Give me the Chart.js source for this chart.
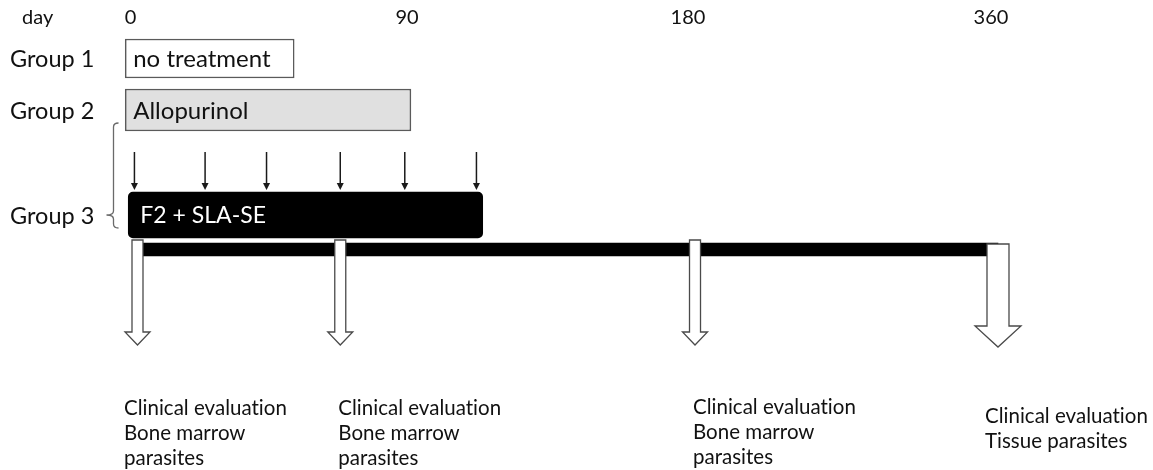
<!DOCTYPE html>
<html><head><meta charset="utf-8">
<script src="https://cdn.jsdelivr.net/npm/chart.js@4"></script>
<style>html,body{margin:0;padding:0;background:#fff;}#wrap{width:1153px;height:470px;position:relative;}</style>
</head><body><div id="wrap"><canvas id="c"></canvas></div>
<script>
// ---------------- data ----------------
const axisTitle = 'day';
const dayTicks = [0, 90, 180, 360];
const dayTickLabels = ['0', '90', '180', '360'];
const groupNames = ['Group 1', 'Group 2', 'Group 3'];
const treatmentNames = ['no treatment', 'Allopurinol', 'F2 + SLA-SE'];
const treatmentStart = [-4, -4, -3];
const treatmentEnd = [51, 89, 112];
const vaccinationDays = [-1, 22, 42, 66, 87, 110];
const timelineStart = 0;
const timelineEnd = 360;
const evaluationDays = [0, 66, 180, 360];
const evaluationLabels = [
  ['Clinical evaluation', 'Bone marrow', 'parasites'],
  ['Clinical evaluation', 'Bone marrow', 'parasites'],
  ['Clinical evaluation', 'Bone marrow', 'parasites'],
  ['Clinical evaluation', 'Tissue parasites']
];

// ---------------- layout / style ----------------
// the hand-drawn time axis is not linear: relative spacing of the tick marks
const axisAnchors = [0, 1, 2.0163, 3.1121];
function dayPos(d) {
  let i = 0;
  while (i < dayTicks.length - 2 && d > dayTicks[i + 1]) i++;
  const t = (d - dayTicks[i]) / (dayTicks[i + 1] - dayTicks[i]);
  return axisAnchors[i] + t * (axisAnchors[i + 1] - axisAnchors[i]);
}
const ROW = {
  tick: 1.8,
  group: [5.85, 11.0, 21.5],
  groupLabel: [5.9, 11.1, 21.6],
  vacTop: 15.2, vacBottom: 19.0,
  timeline: 24.95,
  bracketTop: 12.3, bracketBottom: 22.8, bracketTick: 21.5,
  evalTop: [24.0, 24.0, 24.0, 24.4], evalHead: [33.2, 33.2, 33.2, 32.6], evalTip: [34.5, 34.5, 34.5, 34.7],
  evalText: [40.8, 40.8, 40.7, 41.6], evalLine: 2.5
};
const STYLE = {
  font: 'Lato, "Open Sans", sans-serif',
  text: '#111111',
  border: '#5a5a5a',
  boxFill: ['#ffffff', '#e0e0e0', '#000000'],
  boxText: ['#111111', '#111111', '#ffffff'],
  boxFont: [24, 24, 23],
  boxThickness: [39, 42, 46],
  boxTextInset: [8, 8, 12],
  tickShift: -7,
  evalShaft: [11, 11, 11, 22], evalHeadW: [25, 25, 25, 46],
  evalTextShift: [-13.5, -2, -2, -13]
};

const boxDatasets = groupNames.map((g, i) => ({
  label: treatmentNames[i],
  data: [{ x: [dayPos(treatmentStart[i]), dayPos(treatmentEnd[i])], y: ROW.group[i] }],
  backgroundColor: STYLE.boxFill[i],
  borderColor: i === 2 ? '#000' : STYLE.border,
  borderWidth: i === 2 ? 0 : 1.5,
  borderSkipped: false,
  borderRadius: i === 2 ? 5 : 0,
  barThickness: STYLE.boxThickness[i]
}));
const timelineDataset = {
  label: 'timeline',
  data: [{ x: [dayPos(timelineStart), dayPos(timelineEnd)], y: ROW.timeline }],
  backgroundColor: '#000', borderColor: '#333', borderWidth: 0, borderSkipped: false,
  barThickness: 13
};

const overlay = {
  id: 'overlay',
  afterDatasetsDraw(chart) {
    const { ctx, scales: { x, y }, chartArea } = chart;
    const X = d => x.getPixelForValue(dayPos(d));
    const Y = v => y.getPixelForValue(v);
    ctx.save();
    try { ctx.textRendering = 'optimizeLegibility'; ctx.letterSpacing = '0.01px'; } catch (e) {}
    ctx.fillStyle = STYLE.text;
    ctx.textBaseline = 'middle';
    // axis title + tick labels
    ctx.font = '20px ' + STYLE.font;
    ctx.textAlign = 'left';
    ctx.fillText(axisTitle, chartArea.left + 22, Y(ROW.tick));
    ctx.textAlign = 'center';
    dayTicks.forEach((d, i) => ctx.fillText(dayTickLabels[i], X(d) + STYLE.tickShift, Y(ROW.tick)));
    // group labels
    ctx.font = '23.5px ' + STYLE.font;
    ctx.textAlign = 'left';
    groupNames.forEach((g, i) => ctx.fillText(g, chartArea.left + 10, Y(ROW.groupLabel[i])));
    // text inside treatment boxes
    treatmentNames.forEach((t, i) => {
      ctx.font = STYLE.boxFont[i] + 'px ' + STYLE.font;
      ctx.fillStyle = STYLE.boxText[i];
      ctx.fillText(t, X(treatmentStart[i]) + STYLE.boxTextInset[i], Y(ROW.groupLabel[i]));
    });
    // bracket joining group 2 and group 3
    const bx = X(0) - 24;
    const bt = Y(ROW.bracketTop), bb = Y(ROW.bracketBottom), bm = Y(ROW.bracketTick);
    ctx.strokeStyle = '#6a6a6a'; ctx.lineWidth = 1.3;
    ctx.beginPath();
    ctx.moveTo(bx + 5, bt);
    ctx.quadraticCurveTo(bx, bt, bx, bt + 4);
    ctx.lineTo(bx, bm - 4);
    ctx.quadraticCurveTo(bx, bm, bx - 7, bm);
    ctx.quadraticCurveTo(bx, bm, bx, bm + 4);
    ctx.lineTo(bx, bb - 4);
    ctx.quadraticCurveTo(bx, bb, bx + 5, bb);
    ctx.stroke();
    // vaccination arrows
    ctx.strokeStyle = '#1a1a1a'; ctx.fillStyle = '#1a1a1a'; ctx.lineWidth = 1.5;
    vaccinationDays.forEach(d => {
      const px = X(d), t = Y(ROW.vacTop), b = Y(ROW.vacBottom);
      ctx.beginPath(); ctx.moveTo(px, t); ctx.lineTo(px, b - 6); ctx.stroke();
      ctx.beginPath(); ctx.moveTo(px - 3.5, b - 7); ctx.lineTo(px + 3.5, b - 7); ctx.lineTo(px, b); ctx.closePath(); ctx.fill();
    });
    // evaluation (hollow) arrows
    ctx.strokeStyle = '#4a4a4a'; ctx.fillStyle = '#ffffff'; ctx.lineWidth = 1.3;
    evaluationDays.forEach((d, i) => {
      const cx = X(d), sw = STYLE.evalShaft[i] / 2, hw = STYLE.evalHeadW[i] / 2;
      const t = Y(ROW.evalTop[i]), h = Y(ROW.evalHead[i]), tip = Y(ROW.evalTip[i]);
      ctx.beginPath();
      ctx.moveTo(cx - sw, t); ctx.lineTo(cx + sw, t); ctx.lineTo(cx + sw, h);
      ctx.lineTo(cx + hw, h); ctx.lineTo(cx, tip); ctx.lineTo(cx - hw, h);
      ctx.lineTo(cx - sw, h); ctx.closePath();
      ctx.fill(); ctx.stroke();
    });
    // evaluation labels
    ctx.fillStyle = STYLE.text; ctx.font = '20.5px ' + STYLE.font; ctx.textAlign = 'left';
    evaluationLabels.forEach((lines, i) => {
      lines.forEach((ln, k) => ctx.fillText(ln, X(evaluationDays[i]) + STYLE.evalTextShift[i], Y(ROW.evalText[i] + k * ROW.evalLine)));
    });
    ctx.restore();
  }
};

const unit = 276.5; // px per axis unit
new Chart(document.getElementById('c'), {
  type: 'bar',
  data: { datasets: [...boxDatasets, timelineDataset] },
  options: {
    indexAxis: 'y',
    responsive: true, maintainAspectRatio: false, animation: false,
    layout: { padding: 0 },
    datasets: { bar: { grouped: false } },
    plugins: { legend: { display: false }, tooltip: { enabled: false } },
    scales: {
      x: { type: 'linear', display: false, offset: false, min: -137.5 / unit, max: (1153 - 137.5) / unit },
      y: { type: 'linear', display: false, offset: false, reverse: true, min: 0, max: 47 }
    }
  },
  plugins: [overlay]
});
</script></body></html>
